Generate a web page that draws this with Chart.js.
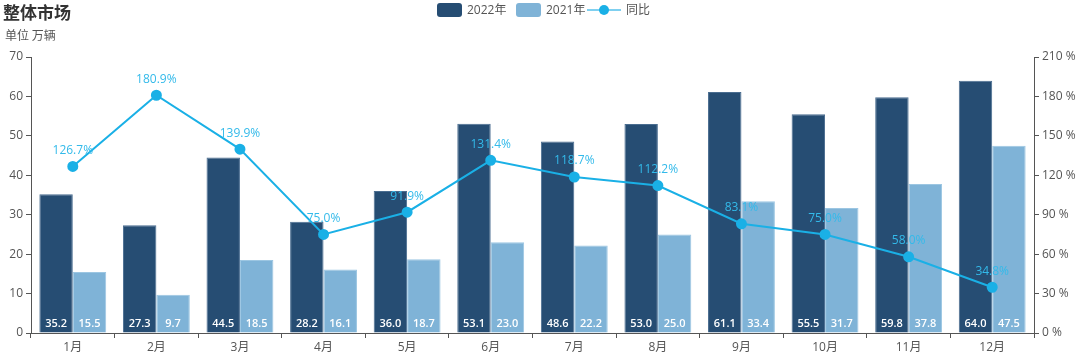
<!DOCTYPE html>
<html><head><meta charset="utf-8">
<script src="https://cdn.jsdelivr.net/npm/chart.js@4.4.0/dist/chart.umd.min.js"></script>
<style>
html,body{margin:0;padding:0;background:#fff;}
#wrap{position:relative;width:1080px;height:358px;font-family:"Open Sans","Noto Sans CJK SC",sans-serif;}
#title{position:absolute;left:3px;top:-1px;font-size:17px;font-weight:bold;color:#333;font-family:"Noto Sans CJK SC",sans-serif;}
#unit{position:absolute;left:5px;top:26px;font-size:12px;color:#555;font-family:"Noto Sans CJK SC",sans-serif;}
.lg{position:absolute;top:1px;font-size:12px;color:#555;font-family:"Open Sans","Noto Sans CJK SC",sans-serif;line-height:18px;}
.box{position:absolute;top:3px;width:25px;height:14px;border-radius:3px;}
</style></head>
<body><div id="wrap">
<canvas id="c" width="1080" height="358"></canvas>
<div id="title">整体市场</div>
<div id="unit">单位 万辆</div>
<div class="box" style="left:437px;background:#264d73"></div><div class="lg" style="left:467px">2022年</div>
<div class="box" style="left:516px;background:#7fb3d7"></div><div class="lg" style="left:546px">2021年</div>
<div style="position:absolute;left:587px;top:9px;width:34px;height:2px;background:#7fd0f0"></div>
<div style="position:absolute;left:599px;top:5px;width:10px;height:10px;border-radius:50%;background:#1ab0e6"></div>
<div class="lg" style="left:626px">同比</div>
</div>
<script>
const categories=['1月','2月','3月','4月','5月','6月','7月','8月','9月','10月','11月','12月'];
const sales2022=[35.2,27.3,44.5,28.2,36.0,53.1,48.6,53.0,61.1,55.5,59.8,64.0];
const sales2021=[15.5,9.7,18.5,16.1,18.7,23.0,22.2,25.0,33.4,31.7,37.8,47.5];
const yoy=[126.7,180.9,139.9,75.0,91.9,131.4,118.7,112.2,83.1,75.0,58.0,34.8];

const labelPlugin={id:'labels',afterDatasetsDraw(chart){
  const ctx=chart.ctx;ctx.save();
  [0,1].forEach(di=>{
    const meta=chart.getDatasetMeta(di);
    const data=chart.data.datasets[di].data;
    ctx.font='600 11px "Open Sans","Noto Sans",sans-serif';
    ctx.fillStyle='#ffffff';ctx.textAlign='center';ctx.textBaseline='middle';
    meta.data.forEach((el,i)=>{ctx.fillText(data[i].toFixed(1),el.x,el.base-9);});
  });
  const meta=chart.getDatasetMeta(2);
  ctx.font='12px "Open Sans","Noto Sans",sans-serif';
  ctx.fillStyle='#33baea';ctx.textAlign='center';ctx.textBaseline='middle';
  meta.data.forEach((el,i)=>{ctx.fillText(yoy[i].toFixed(1)+'%',el.x,el.y-16);});
  ctx.restore();
}};

new Chart(document.getElementById('c'),{
  data:{labels:categories,datasets:[
    {type:'bar',label:'2022年',data:sales2022,backgroundColor:'#264d73',borderColor:'#4a6d90',borderWidth:1,yAxisID:'y',order:2,categoryPercentage:0.8,barPercentage:1},
    {type:'bar',label:'2021年',data:sales2021,backgroundColor:'#7fb3d7',borderColor:'#9cc6e2',borderWidth:1,yAxisID:'y',order:2,categoryPercentage:0.8,barPercentage:1},
    {type:'line',label:'同比',data:yoy,borderColor:'#1ab0e6',backgroundColor:'#1ab0e6',borderWidth:2,pointRadius:4.5,pointHoverRadius:4.5,yAxisID:'y1',order:1,tension:0}
  ]},
  options:{responsive:false,animation:false,
    layout:{padding:{top:57,left:0,right:0,bottom:0}},
    plugins:{legend:{display:false},tooltip:{enabled:false}},
    scales:{
      x:{offset:true,grid:{display:true,drawOnChartArea:false,drawTicks:true,tickLength:5,color:'#555',offset:true},border:{display:true,color:'#555'},
         ticks:{color:'#555',font:{size:12,family:'"Open Sans","Noto Sans CJK SC",sans-serif'},padding:2},
         afterFit(s){s.height=25;}},
      y:{position:'left',min:0,max:70,grid:{display:true,drawOnChartArea:false,drawTicks:true,tickLength:5,color:'#555'},border:{display:true,color:'#555'},
         ticks:{stepSize:10,color:'#555',font:{size:12,family:'"Open Sans",sans-serif'},padding:3},
         afterFit(s){s.width=31;}},
      y1:{position:'right',min:0,max:210,grid:{display:true,drawOnChartArea:false,drawTicks:true,tickLength:5,color:'#555'},border:{display:true,color:'#555'},
         ticks:{stepSize:30,color:'#555',font:{size:12,family:'"Open Sans",sans-serif'},padding:3,callback:v=>v+' %'},
         afterFit(s){s.width=46;}}
    }
  },
  plugins:[labelPlugin]
});
</script>
</body></html>
